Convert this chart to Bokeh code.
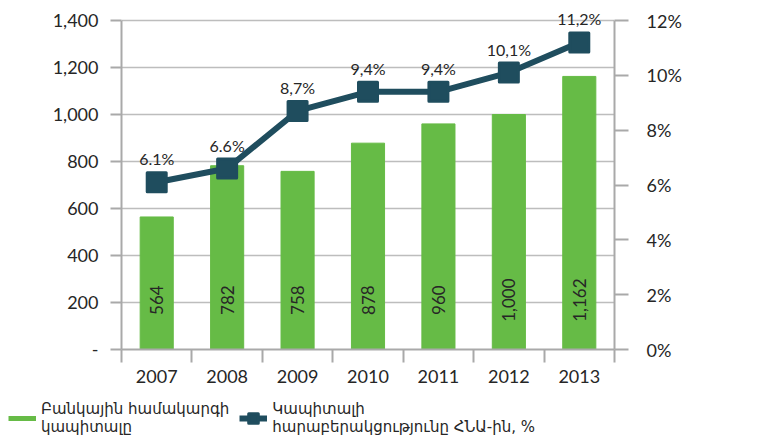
from bokeh.plotting import figure
from bokeh.models import Range1d, LinearAxis, FixedTicker, Legend, LegendItem
from bokeh.layouts import column
from bokeh.embed import file_html
from bokeh.resources import INLINE
from bokeh.core.properties import value

years = ["2007", "2008", "2009", "2010", "2011", "2012", "2013"]
capital = [564, 782, 758, 878, 960, 1000, 1162]
capital_labels = ["564", "782", "758", "878", "960", "1,000", "1,162"]
ratio = [6.1, 6.6, 8.7, 9.4, 9.4, 10.1, 11.2]
ratio_labels = ["6.1%", "6.6%", "8,7%", "9,4%", "9,4%", "10,1%", "11,2%"]
left_ticks = [0, 200, 400, 600, 800, 1000, 1200, 1400]
left_tick_labels = ["-", "200", "400", "600", "800", "1,000", "1,200", "1,400"]
right_ticks = [0, 2, 4, 6, 8, 10, 12]
right_tick_labels = ["0%", "2%", "4%", "6%", "8%", "10%", "12%"]
legend_bar = "Բանկային համակարգի\nկապիտալը"
legend_line = "Կապիտալի\nհարաբերակցությունը ՀՆԱ-ին, %"

GREEN = "#66bb46"
TEAL = "#1f4d5e"
GRAY = "#a9a9a9"
TXT = "#262626"
FONT = "Lato"

n = len(years)
xs = [i + 0.5 for i in range(n)]
bar_label_y = 210

W, H = 760, 392
TOP, BOTTOM = 10, 43
frame_h = H - TOP - BOTTOM          # pixels
axis_px = 329                        # pixels spanned by 0..1400
stretch = frame_h / axis_px
y_max = left_ticks[-1]
pct_max = right_ticks[-1]

p = figure(width=W, height=H, output_backend="svg", toolbar_location=None,
           x_range=Range1d(0, n), y_range=Range1d(0, y_max * stretch),
           min_border_left=121, min_border_right=146, min_border_top=TOP,
           min_border_bottom=BOTTOM)
p.frame_align = False
p.extra_y_ranges = {"pct": Range1d(0, pct_max * stretch)}
p.outline_line_color = None
p.background_fill_color = "white"

bars = p.vbar(x=xs, top=capital, width=0.47, color=GREEN)
p.text(x=xs, y=[bar_label_y] * n, text=capital_labels, angle=1.5708,
       text_align="center", text_baseline="middle", text_color=TXT,
       text_font=value(FONT), text_font_size="17px")

ln = p.line(x=xs, y=ratio, y_range_name="pct", line_color=TEAL, line_width=6)
mk = p.scatter(x=xs, y=ratio, y_range_name="pct", marker="square", size=19,
               fill_color=TEAL, line_color=TEAL, line_width=3, line_join="round")
p.text(x=xs, y=ratio, y_range_name="pct", text=ratio_labels, y_offset=-14,
       text_align="center", text_baseline="bottom", text_color=TXT,
       text_font=value(FONT), text_font_size="16px")

# left axis
ya = p.yaxis[0]
ya.ticker = FixedTicker(ticks=left_ticks)
ya.bounds = (0, y_max)
ya.major_label_overrides = dict(zip(left_ticks, left_tick_labels))
ya.axis_line_color = GRAY
ya.axis_line_width = 2
ya.major_tick_line_color = GRAY
ya.major_tick_line_width = 2
ya.major_tick_out = 11
ya.major_tick_in = 0
ya.minor_tick_line_color = None
ya.major_label_standoff = 12
ya.major_label_text_font = FONT
ya.major_label_text_font_size = "18px"
ya.major_label_text_color = TXT

# right axis
ra = LinearAxis(y_range_name="pct", ticker=FixedTicker(ticks=right_ticks),
                bounds=(0, pct_max))
ra.major_label_overrides = dict(zip(right_ticks, right_tick_labels))
ra.axis_line_color = GRAY
ra.axis_line_width = 2
ra.major_tick_line_color = GRAY
ra.major_tick_line_width = 2
ra.major_tick_out = 14
ra.major_tick_in = 0
ra.minor_tick_line_color = None
ra.major_label_standoff = 18
ra.major_label_text_font = FONT
ra.major_label_text_font_size = "18px"
ra.major_label_text_color = TXT
p.add_layout(ra, "right")

# x axis
xa = p.xaxis[0]
xa.ticker = FixedTicker(ticks=xs, minor_ticks=list(range(n + 1)))
xa.major_label_overrides = dict(zip(xs, years))
xa.axis_line_color = GRAY
xa.axis_line_width = 2
xa.major_tick_line_color = None
xa.major_tick_out = 0
xa.major_tick_in = 0
xa.minor_tick_line_color = GRAY
xa.minor_tick_line_width = 2
xa.minor_tick_out = 13
xa.minor_tick_in = 0
xa.major_label_standoff = 7
xa.major_label_text_font = FONT
xa.major_label_text_font_size = "18px"
xa.major_label_text_color = TXT

p.xgrid.grid_line_color = None
p.ygrid.ticker = FixedTicker(ticks=left_ticks)
p.ygrid.grid_line_color = "#bdbdbd"
p.ygrid.grid_line_width = 1.5

# legend (separate strip below the chart); swatch renderers sit outside the view
lg = figure(width=W, height=444 - H, output_backend="svg", toolbar_location=None,
            x_range=Range1d(0, 1), y_range=Range1d(0, 1), min_border=0)
lg.frame_align = False
lg.axis.visible = False
lg.grid.grid_line_color = None
lg.outline_line_color = None
off = [-10]
leg_bar = lg.line(x=off, y=off, line_color=GREEN, line_width=5)
leg_ln = lg.line(x=off, y=off, line_color=TEAL, line_width=6)
leg_mk = lg.scatter(x=off, y=off, marker="square", size=19, fill_color=TEAL,
                    line_color=TEAL, line_width=3, line_join="round")
legend = Legend(items=[LegendItem(label=legend_bar, renderers=[leg_bar]),
                       LegendItem(label=legend_line, renderers=[leg_ln, leg_mk])],
                orientation="horizontal", location="top_left",
                label_text_font="DejaVu Sans", label_text_font_size="15px",
                label_text_line_height=1.6,
                label_text_color=TXT, glyph_width=28, glyph_height=24,
                spacing=10, padding=2, margin=8, border_line_color=None,
                background_fill_alpha=0, label_standoff=5)
lg.add_layout(legend, "center")

open("out.html", "w").write(file_html(column(p, lg), INLINE))
